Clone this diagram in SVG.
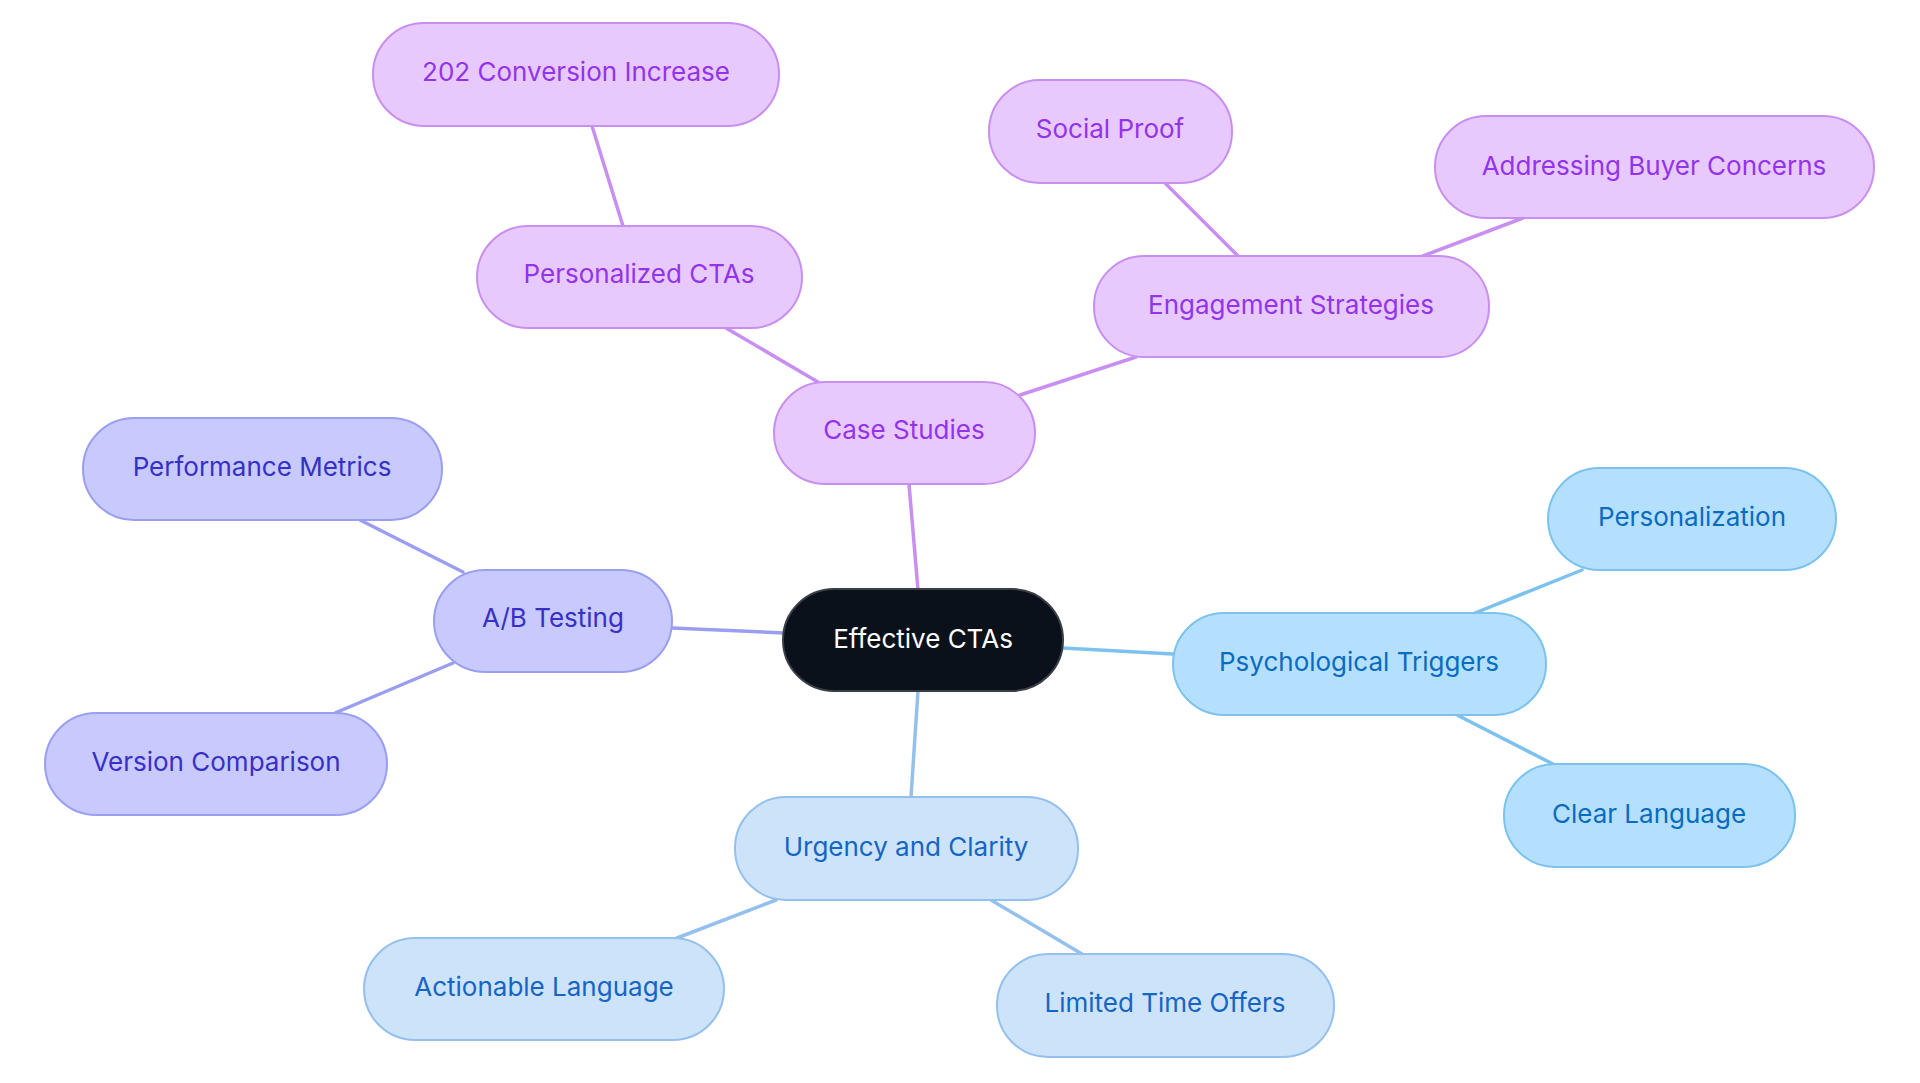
<svg xmlns="http://www.w3.org/2000/svg" width="1920" height="1083" viewBox="0 0 1920 1083">
<style>
text{font-family:Inter,"Liberation Sans",sans-serif;font-size:26px;text-anchor:middle;dominant-baseline:central}
.purple rect{fill:#E7C9FE;stroke:#C98FF0;stroke-width:2}
.purple text{fill:#9333EA}
.indigo rect{fill:#C8C9FD;stroke:#9A9EF0;stroke-width:2}
.indigo text{fill:#3730C5}
.sky rect{fill:#B4E0FD;stroke:#7CC2EE;stroke-width:2}
.sky text{fill:#0B6BBF}
.pale rect{fill:#CDE3FA;stroke:#94C0EE;stroke-width:2}
.pale text{fill:#1565C4}
.root rect{fill:#0B111A;stroke:#3A3F47;stroke-width:2}
.root text{fill:#FFFFFF}
.c line{stroke-width:3.5;stroke-linecap:round}
.cp{stroke:#C98FF0}.ci{stroke:#9A9EF0}.cs{stroke:#7CC2EE}.cl{stroke:#94C0EE}
</style>
<rect width="1920" height="1083" fill="#FFFFFF"/>
<g id="connectors" class="c">
<line class="cp" x1="592" y1="126" x2="623" y2="226"/>
<line class="cp" x1="726" y1="328" x2="818" y2="382"/>
<line class="cp" x1="1165" y1="183" x2="1238" y2="256"/>
<line class="cp" x1="1523" y1="218" x2="1423" y2="256"/>
<line class="cp" x1="1136" y1="357" x2="1020" y2="395"/>
<line class="cp" x1="909" y1="484" x2="918" y2="590"/>
<line class="ci" x1="360" y1="520" x2="463" y2="572"/>
<line class="ci" x1="335" y1="713" x2="453" y2="663"/>
<line class="ci" x1="672" y1="628" x2="784" y2="633"/>
<line class="cs" x1="1063" y1="648" x2="1173" y2="654"/>
<line class="cs" x1="1582" y1="570" x2="1475" y2="613"/>
<line class="cs" x1="1457" y1="715" x2="1553" y2="764"/>
<line class="cl" x1="918" y1="691" x2="911" y2="797"/>
<line class="cl" x1="776" y1="900" x2="677" y2="938"/>
<line class="cl" x1="991" y1="900" x2="1082" y2="954"/>
</g>
<g id="n-root" class="root"><rect x="783" y="589" width="280" height="102" rx="51"/><text x="923" y="638">Effective CTAs</text></g>
<g id="n-case" class="purple"><rect x="774" y="382" width="261" height="102" rx="51"/><text x="904" y="429">Case Studies</text></g>
<g id="n-pers-ctas" class="purple"><rect x="477" y="226" width="325" height="102" rx="51"/><text x="639" y="273">Personalized CTAs</text></g>
<g id="n-202" class="purple"><rect x="373" y="23" width="406" height="103" rx="51"/><text x="576" y="71">202 Conversion Increase</text></g>
<g id="n-engage" class="purple"><rect x="1094" y="256" width="395" height="101" rx="50"/><text x="1291" y="304">Engagement Strategies</text></g>
<g id="n-social" class="purple"><rect x="989" y="80" width="243" height="103" rx="51"/><text x="1110" y="128">Social Proof</text></g>
<g id="n-buyer" class="purple"><rect x="1435" y="116" width="439" height="102" rx="51"/><text x="1654" y="165">Addressing Buyer Concerns</text></g>
<g id="n-ab" class="indigo"><rect x="434" y="570" width="238" height="102" rx="51"/><text x="553" y="617">A/B Testing</text></g>
<g id="n-perf" class="indigo"><rect x="83" y="418" width="359" height="102" rx="51"/><text x="262" y="466">Performance Metrics</text></g>
<g id="n-version" class="indigo"><rect x="45" y="713" width="342" height="102" rx="51"/><text x="216" y="761">Version Comparison</text></g>
<g id="n-psych" class="sky"><rect x="1173" y="613" width="373" height="102" rx="51"/><text x="1359" y="661">Psychological Triggers</text></g>
<g id="n-personalization" class="sky"><rect x="1548" y="468" width="288" height="102" rx="51"/><text x="1692" y="516">Personalization</text></g>
<g id="n-clear" class="sky"><rect x="1504" y="764" width="291" height="103" rx="51"/><text x="1649" y="813">Clear Language</text></g>
<g id="n-urgency" class="pale"><rect x="735" y="797" width="343" height="103" rx="51"/><text x="906" y="846">Urgency and Clarity</text></g>
<g id="n-action" class="pale"><rect x="364" y="938" width="360" height="102" rx="51"/><text x="544" y="986">Actionable Language</text></g>
<g id="n-limited" class="pale"><rect x="997" y="954" width="337" height="103" rx="51"/><text x="1165" y="1002">Limited Time Offers</text></g>
</svg>
